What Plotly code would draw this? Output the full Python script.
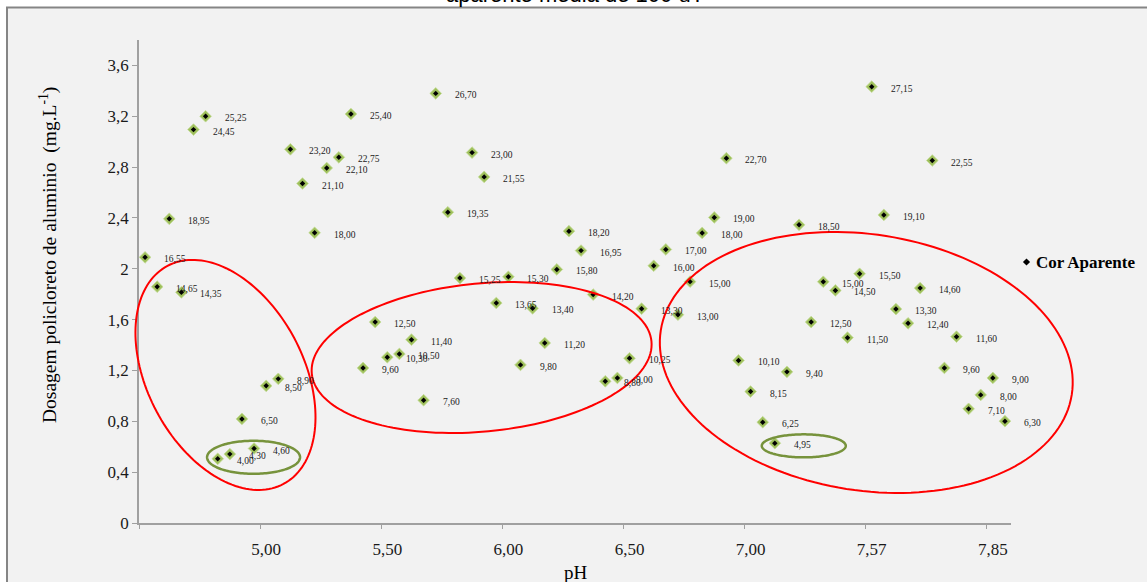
import numpy as np
import plotly.graph_objects as go

# ---------------- data ----------------
# x axis is a category axis: one category per sample (72 samples), labelled every 10 categories
ph_tick_categories = [11, 21, 31, 41, 51, 61, 71]
ph_tick_labels = ["5,00", "5,50", "6,00", "6,50", "7,00", "7,57", "7,85"]

# Dosagem policloreto de aluminio (mg/L), in category order
dosagem = [2.090, 1.859, 2.393, 1.815, 3.095, 3.200, 0.505, 0.542, 0.819, 0.586,
           1.079, 1.134, 2.940, 2.671, 2.283, 2.793, 2.877, 3.218, 1.220, 1.581,
           1.304, 1.330, 1.442, 0.966, 3.380, 2.445, 1.927, 2.914, 2.723, 1.731,
           1.937, 1.244, 1.689, 1.416, 1.995, 2.296, 2.143, 1.797, 1.115, 1.141,
           1.296, 1.686, 2.024, 2.152, 1.639, 1.899, 2.282, 2.404, 2.870, 1.279,
           1.034, 0.793, 0.628, 1.189, 2.346, 1.581, 1.898, 1.830, 1.458, 1.961,
           3.433, 2.424, 1.683, 1.571, 1.848, 2.852, 1.220, 1.466, 0.898, 1.008,
           1.141, 0.801]

# Cor aparente data labels, in category order
cor_aparente = ["16,55", "14,65", "18,95", "14,35", "24,45", "25,25", "4,00", "4,30", "6,50", "4,60",
                "8,50", "8,90", "23,20", "21,10", "18,00", "22,10", "22,75", "25,40", "9,60", "12,50",
                "10,30", "10,50", "11,40", "7,60", "26,70", "19,35", "15,25", "23,00", "21,55", "13,65",
                "15,30", "9,80", "13,40", "11,20", "15,80", "18,20", "16,95", "14,20", "8,80", "9,00",
                "10,25", "13,30", "16,00", "17,00", "13,00", "15,00", "18,00", "19,00", "22,70", "10,10",
                "8,15", "6,25", "4,95", "9,40", "18,50", "12,50", "15,00", "14,50", "11,50", "15,50",
                "27,15", "19,10", "13,30", "12,40", "14,60", "22,55", "9,60", "11,60", "7,10", "8,00",
                "9,00", "6,30"]

y_tick_vals = [0, 0.4, 0.8, 1.2, 1.6, 2.0, 2.4, 2.8, 3.2, 3.6]
y_tick_text = ["0", "0,4", "0,8", "1,2", "1,6", "2", "2,4", "2,8", "3,2", "3,6"]

categories = list(range(1, len(dosagem) + 1))

# ---------------- layout geometry ----------------
W, H = 1147, 582
ML, MR, MT, MB = 139, 136, 40, 59
PW, PH = W - ML - MR, H - MT - MB
X_RANGE = [0.5, len(dosagem) + 0.5]
Y_RANGE = [0, 3.8]
SX = PW / (X_RANGE[1] - X_RANGE[0])
SY = PH / (Y_RANGE[1] - Y_RANGE[0])


def px_to_paper(px, py):
    return (px - ML) / PW, (H - MB - py) / PH


def data_to_px(xc, yv):
    return ML + (xc - X_RANGE[0]) * SX, H - MB - (yv - Y_RANGE[0]) * SY


def ellipse_path(xc, yc, a, b, theta_deg, n=160):
    cx, cy = data_to_px(xc, yc)
    th = np.radians(theta_deg)
    t = np.linspace(0, 2 * np.pi, n, endpoint=False)
    dx = a * np.cos(t) * np.cos(th) - b * np.sin(t) * np.sin(th)
    dy = a * np.cos(t) * np.sin(th) + b * np.sin(t) * np.cos(th)
    pts = [px_to_paper(cx + u, cy - v) for u, v in zip(dx, dy)]
    return "M " + " L ".join(f"{p:.5f},{q:.5f}" for p, q in pts) + " Z"


fig = go.Figure()

# green glow behind each marker
fig.add_trace(go.Scatter(
    x=categories, y=dosagem, mode="markers", showlegend=False, hoverinfo="skip",
    marker=dict(symbol="diamond", size=9, color="#9fc05c", line=dict(width=0.8, color="#c4dc98")),
))
# black diamond markers
fig.add_trace(go.Scatter(
    x=categories, y=dosagem, mode="markers", name="Cor Aparente", showlegend=False,
    text=cor_aparente,
    marker=dict(symbol="diamond", size=4.2, color="#000000"),
))
# dummy trace to carry the tick-mark axis
fig.add_trace(go.Scatter(x=[X_RANGE[0]], y=[0], xaxis="x2", mode="markers",
                         marker=dict(opacity=0), showlegend=False, hoverinfo="skip"))

annotations = []
for c, v, lab in zip(categories, dosagem, cor_aparente):
    annotations.append(dict(
        x=c, y=v, xref="x", yref="y", text=lab, showarrow=False,
        xanchor="left", yanchor="middle", xshift=17, yshift=-2,
        font=dict(family="Liberation Serif", size=9.5, color="#1a1a1a"),
    ))

# chart title (only its last line is visible)
tx, ty = px_to_paper(575, 9)
annotations.append(dict(x=tx, y=ty, xref="paper", yref="paper", text="aparente média de 100 uT",
                        showarrow=False, xanchor="center", yanchor="bottom",
                        font=dict(family="Liberation Sans", size=22, color="#000000")))
# axis titles
ax_, ay_ = px_to_paper(48, 255)
annotations.append(dict(x=ax_, y=ay_, xref="paper", yref="paper",
                        text="Dosagem policloreto de aluminio  (mg.L<sup>-1</sup>)",
                        textangle=-90, showarrow=False, xanchor="center", yanchor="middle",
                        font=dict(family="Liberation Serif", size=19.5, color="#000000")))
px_, py_ = px_to_paper(576, 572)
annotations.append(dict(x=px_, y=py_, xref="paper", yref="paper", text="pH",
                        showarrow=False, xanchor="center", yanchor="middle",
                        font=dict(family="Liberation Serif", size=19, color="#000000")))
# legend
lx, ly = px_to_paper(1034, 262)
annotations.append(dict(x=lx, y=ly, xref="paper", yref="paper", text="<b>Cor Aparente</b>",
                        showarrow=False, xanchor="left", yanchor="middle",
                        font=dict(family="Liberation Serif", size=17, color="#000000")))

shapes = []
# outer chart frame
fx0, fy1 = px_to_paper(7, 7.5)
fx1, fy0 = px_to_paper(1160, 600)
shapes.append(dict(type="rect", xref="paper", yref="paper", x0=fx0, x1=fx1, y0=fy0, y1=fy1,
                   line=dict(color="#858585", width=2), fillcolor="#f2f2f2", layer="below"))
# legend symbol
lcx, lcy = 1026.5, 262
d = 3.6
pts = [px_to_paper(lcx, lcy - d), px_to_paper(lcx + d, lcy), px_to_paper(lcx, lcy + d), px_to_paper(lcx - d, lcy)]
shapes.append(dict(type="path", xref="paper", yref="paper",
                   path="M " + " L ".join(f"{p:.5f},{q:.5f}" for p, q in pts) + " Z",
                   fillcolor="#000000", line=dict(width=0)))

# highlight ellipses (category position, dosage, semi-axes px, angle)
red_groups = [(7.64, 1.165, 123.5, 78, -62), (28.79, 1.302, 170.6, 74.1, 5.4), (60.55, 1.263, 208, 128, -8.9)]
green_groups = [(9.96, 0.517, 46.5, 16.5, 0), (55.39, 0.607, 42, 11.5, 0)]
for g in red_groups:
    shapes.append(dict(type="path", xref="paper", yref="paper", path=ellipse_path(*g),
                       line=dict(color="#ff0000", width=2)))
for g in green_groups:
    shapes.append(dict(type="path", xref="paper", yref="paper", path=ellipse_path(*g),
                       line=dict(color="#77933c", width=2.5)))

fig.update_layout(
    width=W, height=H,
    margin=dict(l=ML, r=MR, t=MT, b=MB, pad=0),
    paper_bgcolor="#ffffff", plot_bgcolor="rgba(0,0,0,0)",
    showlegend=False,
    xaxis=dict(range=X_RANGE, tickmode="array", tickvals=ph_tick_categories, ticktext=ph_tick_labels,
               ticks="", showgrid=False, zeroline=False, showline=True, linecolor="#a0a0a0", linewidth=1.5,
               ticklabelstandoff=10,
               tickfont=dict(family="Liberation Serif", size=17, color="#1a1a1a")),
    xaxis2=dict(range=X_RANGE, overlaying="x", side="bottom", tickmode="array",
                tickvals=[0.5] + [c - 0.5 for c in ph_tick_categories],
                ticks="outside", ticklen=5, tickcolor="#a0a0a0", tickwidth=1.2,
                showticklabels=False, showgrid=False, zeroline=False, showline=False),
    yaxis=dict(range=Y_RANGE, tickmode="array", tickvals=y_tick_vals, ticktext=y_tick_text,
               ticks="outside", ticklen=5, tickcolor="#a0a0a0", tickwidth=1.2,
               showgrid=False, zeroline=False, showline=True, linecolor="#a0a0a0", linewidth=1.5,
               tickfont=dict(family="Liberation Serif", size=17, color="#1a1a1a")),
    annotations=annotations,
    shapes=shapes,
)

fig.write_html("out.html", config={"displayModeBar": False},
               post_script="document.body.style.margin='0';document.body.style.padding='0';")
